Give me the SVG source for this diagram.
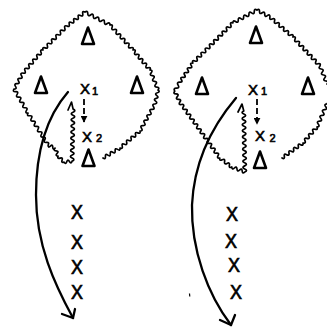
<svg xmlns="http://www.w3.org/2000/svg" width="327" height="329" viewBox="0 0 327 329">
<style>
.wave{fill:none;stroke:#000;stroke-width:1.7;stroke-linejoin:round;stroke-linecap:round}
.curve{fill:none;stroke:#000;stroke-width:2.3;stroke-linecap:round;stroke-linejoin:round}
.dash{fill:none;stroke:#000;stroke-width:1.8;stroke-dasharray:6 3}
.tri{fill:none;stroke:#000;stroke-width:2.6;stroke-linejoin:round}
.lbl{font-family:"Liberation Sans",Arial,sans-serif;fill:#000;stroke:#000;stroke-width:0.6}
.big{font-size:15px}
.sub{font-size:11px}
.stk{font-size:20px;stroke-width:0.7}
</style>
<defs>
<marker id="ah" viewBox="0 0 10 10" refX="9" refY="5" markerWidth="7" markerHeight="7" markerUnits="userSpaceOnUse" orient="auto"><path d="M0,0 L10,5 L0,10 Z" fill="#000"/></marker>
<path id="tri" d="M0,-8.5 L6,8 L-6,8 Z"/>
</defs>
<rect width="327" height="329" fill="#fff"/>

<g id="field-left">
<path class="wave" d="M103,158
q2.74,1.87 2.43,-1.43 t2.43,-1.43 2.43,-1.43 2.43,-1.43 2.43,-1.43 2.43,-1.43 2.43,-1.43
q3.05,1.34 2.22,-1.89 t2.22,-1.89 2.22,-1.89 2.22,-1.89 2.22,-1.89 2.22,-1.89 2.22,-1.89 2.22,-1.89 2.22,-1.89
q3.37,0.11 1.5,-2.7 t1.5,-2.7 1.5,-2.7 1.5,-2.7 1.5,-2.7 1.5,-2.7 1.5,-2.7 1.5,-2.7 1.5,-2.7 1.5,-2.7
q3.23,-0.77 0.6,-2.8 t0.6,-2.8 0.6,-2.8 0.6,-2.8 0.6,-2.8
q2.21,-2.54 -1.14,-2.86 t-1.14,-2.86 -1.14,-2.86 -1.14,-2.86 -1.14,-2.86 -1.14,-2.86 -1.14,-2.86
q1.34,-3.05 -1.89,-2.22 t-1.89,-2.22 -1.89,-2.22 -1.89,-2.22 -1.89,-2.22 -1.89,-2.22 -1.89,-2.22 -1.89,-2.22 -1.89,-2.22
q1.16,-3.17 -2.09,-2.27 t-2.09,-2.27 -2.09,-2.27 -2.09,-2.27 -2.09,-2.27 -2.09,-2.27 -2.09,-2.27 -2.09,-2.27 -2.09,-2.27 -2.09,-2.27 -2.09,-2.27
q0,-3.38 -2.78,-1.44 t-2.78,-1.44 -2.78,-1.44 -2.78,-1.44 -2.78,-1.44 -2.78,-1.44 -2.78,-1.44 -2.78,-1.44 -2.78,-1.44
q-2.97,-1.49 -2.25,1.75 t-2.25,1.75 -2.25,1.75 -2.25,1.75 -2.25,1.75 -2.25,1.75 -2.25,1.75 -2.25,1.75
q-3.21,-1.03 -2.18,2.18 t-2.18,2.18 -2.18,2.18 -2.18,2.18 -2.18,2.18 -2.18,2.18 -2.18,2.18 -2.18,2.18 -2.18,2.18 -2.18,2.18 -2.18,2.18
q-3.26,-0.82 -2,2.3 t-2,2.3 -2,2.3 -2,2.3 -2,2.3 -2,2.3 -2,2.3 -2,2.3 -2,2.3 -2,2.3
q-3.36,-0.14 -1.5,2.67 t-1.5,2.67 -1.5,2.67 -1.5,2.67 -1.5,2.67 -1.5,2.67
q-1.81,2.85 1.56,2.67 t1.56,2.67 1.56,2.67 1.56,2.67 1.56,2.67 1.56,2.67 1.56,2.67 1.56,2.67 1.56,2.67
q-1.71,2.92 1.67,2.67 t1.67,2.67 1.67,2.67 1.67,2.67 1.67,2.67 1.67,2.67 1.67,2.67 1.67,2.67 1.67,2.67 1.67,2.67 1.67,2.67 1.67,2.67
q-0.01,3.26 2.33,1 t2.33,1 2.33,1
q-2.31,2.39 1,2.67 t1,2.67 1,2.67
q-1.12,3.12 2,2 t2,2 2,2
q1.71,2.81 2.67,-0.33 t2.67,-0.33 2.67,-0.33
q3.53,-1.46 0.06,-3.06 t0.06,-3.06 0.06,-3.06 0.06,-3.06 0.06,-3.06 0.06,-3.06 0.06,-3.06 0.06,-3.06 0.06,-3.06 0.06,-3.06 0.06,-3.06 0.06,-3.06 0.06,-3.06 0.06,-3.06 0.06,-3.06 0.06,-3.06 0.06,-3.06
L71.5,102 L68,110"/>
</g>

<g id="field-right">
<path class="wave" d="M282,158
q2.91,1.61 2.33,-1.67 t2.33,-1.67 2.33,-1.67 2.33,-1.67 2.33,-1.67 2.33,-1.67 2.33,-1.67 2.33,-1.67 2.33,-1.67
q3.26,0.83 2,-2.29 t2,-2.29 2,-2.29 2,-2.29 2,-2.29 2,-2.29 2,-2.29
q3.38,-0.24 1.25,-2.88 t1.25,-2.88 1.25,-2.88 1.25,-2.88 1.25,-2.88 1.25,-2.88 1.25,-2.88 1.25,-2.88
L335,94 L327,84
q2.21,-2.59 -1.17,-3 t-1.17,-3 -1.17,-3 -1.17,-3 -1.17,-3 -1.17,-3
q1.16,-3.16 -2.08,-2.23 t-2.08,-2.23 -2.08,-2.23 -2.08,-2.23 -2.08,-2.23 -2.08,-2.23 -2.08,-2.23 -2.08,-2.23 -2.08,-2.23 -2.08,-2.23 -2.08,-2.23 -2.08,-2.23 -2.08,-2.23
q0.82,-3.26 -2.3,-2 t-2.3,-2 -2.3,-2 -2.3,-2 -2.3,-2 -2.3,-2 -2.3,-2 -2.3,-2 -2.3,-2 -2.3,-2
q0.12,-3.34 -2.6,-1.4 t-2.6,-1.4 -2.6,-1.4 -2.6,-1.4 -2.6,-1.4
q-2.76,-1.92 -2.67,1.44 t-2.67,1.44 -2.67,1.44 -2.67,1.44 -2.67,1.44 -2.67,1.44 -2.67,1.44 -2.67,1.44 -2.67,1.44
q-3.17,-1.07 -2.11,2.11 t-2.11,2.11 -2.11,2.11 -2.11,2.11 -2.11,2.11 -2.11,2.11 -2.11,2.11 -2.11,2.11 -2.11,2.11 -2.11,2.11 -2.11,2.11 -2.11,2.11 -2.11,2.11 -2.11,2.11 -2.11,2.11 -2.11,2.11 -2.11,2.11 -2.11,2.11 -2.11,2.11
q-3.29,-0.51 -1.63,2.38 t-1.63,2.38 -1.63,2.38 -1.63,2.38 -1.63,2.38 -1.63,2.38 -1.63,2.38 -1.63,2.38
q-3.45,0.04 -1.67,3 t-1.67,3 -1.67,3
q-2.11,2.62 1.25,2.75 t1.25,2.75 1.25,2.75 1.25,2.75
q-1.57,2.96 1.74,2.43 t1.74,2.43 1.74,2.43 1.74,2.43 1.74,2.43 1.74,2.43 1.74,2.43 1.74,2.43 1.74,2.43 1.74,2.43 1.74,2.43 1.74,2.43 1.74,2.43 1.74,2.43 1.74,2.43 1.74,2.43 1.74,2.43 1.74,2.43 1.74,2.43 1.74,2.43 1.74,2.43 1.74,2.43 1.74,2.43
q-0.6,3.3 2.4,1.8 t2.4,1.8 2.4,1.8 2.4,1.8 2.4,1.8
q0.22,3.3 2.6,1 t2.6,1 2.6,1 2.6,1 2.6,1
q3.48,-1.58 -0.05,-3.05 t-0.05,-3.05 -0.05,-3.05 -0.05,-3.05 -0.05,-3.05 -0.05,-3.05 -0.05,-3.05 -0.05,-3.05 -0.05,-3.05 -0.05,-3.05 -0.05,-3.05 -0.05,-3.05 -0.05,-3.05 -0.05,-3.05 -0.05,-3.05 -0.05,-3.05 -0.05,-3.05 -0.05,-3.05 -0.05,-3.05 -0.05,-3.05
L242,104 L238,112"/>
</g>

<g id="connectors">
<path class="curve" d="M68,92 C48,115 36,150 36,195 C36,245 55,285 73,318"/>
<path class="curve" d="M62,314 L73,318 L75,309"/>
<path class="curve" d="M236,98 C214,124 194,160 192,205 C191,250 208,295 231,325"/>
<path class="curve" d="M220,320 L231,325 L235,315"/>
<path class="dash" d="M84,99 L84,122" marker-end="url(#ah)"/>
<path class="dash" d="M257,99 L257,124" marker-end="url(#ah)"/>
</g>

<g id="tri-l-top"><use href="#tri" class="tri" x="88" y="36"/></g>
<g id="tri-l-left"><use href="#tri" class="tri" x="41" y="85"/></g>
<g id="tri-l-right"><use href="#tri" class="tri" x="137" y="85"/></g>
<g id="tri-l-bottom"><use href="#tri" class="tri" x="88.5" y="158"/></g>
<g id="tri-r-top"><use href="#tri" class="tri" x="256" y="35"/></g>
<g id="tri-r-left"><use href="#tri" class="tri" x="202" y="86"/></g>
<g id="tri-r-right"><use href="#tri" class="tri" x="308" y="86"/></g>
<g id="tri-r-bottom"><use href="#tri" class="tri" x="260" y="160"/></g>

<g id="x1-left"><text class="lbl big" x="85" y="94" text-anchor="middle">X</text><text class="lbl sub" x="95" y="95" text-anchor="middle">1</text></g>
<g id="x2-left"><text class="lbl big" x="87" y="142" text-anchor="middle">X</text><text class="lbl sub" x="99" y="142" text-anchor="middle">2</text></g>
<g id="x1-right"><text class="lbl big" x="253" y="95" text-anchor="middle">X</text><text class="lbl sub" x="264" y="95" text-anchor="middle">1</text></g>
<g id="x2-right"><text class="lbl big" x="260" y="141" text-anchor="middle">X</text><text class="lbl sub" x="272.5" y="142" text-anchor="middle">2</text></g>

<g id="stack-left">
<text class="lbl stk" text-anchor="middle" transform="translate(77,219) scale(0.9,1)">X</text>
<text class="lbl stk" text-anchor="middle" transform="translate(77,249) scale(0.9,1)">X</text>
<text class="lbl stk" text-anchor="middle" transform="translate(77,274) scale(0.9,1)">X</text>
<text class="lbl stk" text-anchor="middle" transform="translate(77,299) scale(0.9,1)">X</text>
</g>
<g id="stack-right">
<text class="lbl stk" text-anchor="middle" transform="translate(232,221) scale(0.9,1)">X</text>
<text class="lbl stk" text-anchor="middle" transform="translate(231,248) scale(0.9,1)">X</text>
<text class="lbl stk" text-anchor="middle" transform="translate(234,272) scale(0.9,1)">X</text>
<text class="lbl stk" text-anchor="middle" transform="translate(236,299) scale(0.9,1)">X</text>
</g>
<path d="M189.5,293.5 L189.8,296.5" stroke="#000" stroke-width="1.2"/>
</svg>
